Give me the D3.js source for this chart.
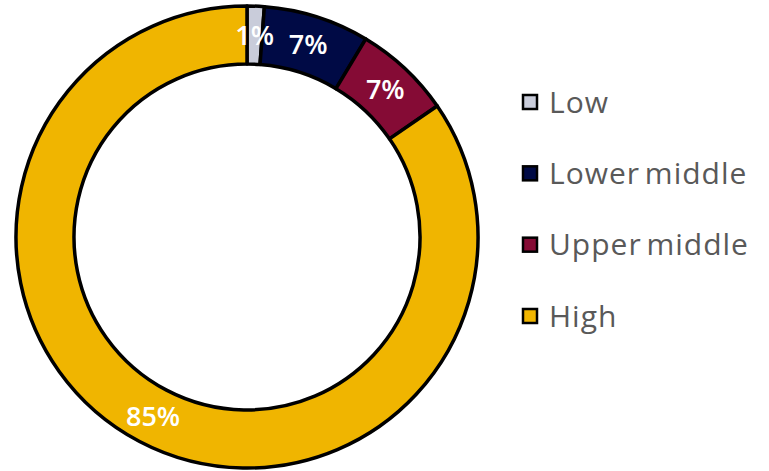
<!DOCTYPE html>
<html><head><meta charset="utf-8">
<script src="https://cdn.jsdelivr.net/npm/d3@7"></script>
<style>body{margin:0;background:#fff;}svg{display:block;}</style>
</head><body>
<svg id="c" width="769" height="471"></svg>
<script>
const categories = ["Low", "Lower middle", "Upper middle", "High"];
const values = [1.2, 7.4, 6.8, 84.6];
const labels = ["1%", "7%", "7%", "85%"];
const colors = ["#c9ccda", "#000a45", "#850b35", "#f0b500"];

const svg = d3.select("#c");
const cx = 247, cy = 237, rOut = 231, rIn = 173;
const g = svg.append("g").attr("transform", `translate(${cx},${cy})`);
const pie = d3.pie().sort(null).value(d => d.v);
const data = pie(categories.map((c, i) => ({c, v: values[i], l: labels[i], col: colors[i]})));
const arc = d3.arc().innerRadius(rIn).outerRadius(rOut);
const labelArc = d3.arc().innerRadius(202).outerRadius(202);

g.selectAll("path").data(data).join("path")
  .attr("d", arc).attr("fill", d => d.data.col)
  .attr("stroke", "#000").attr("stroke-width", 3.5).attr("stroke-linejoin", "round");

g.selectAll("text").data(data).join("text")
  .attr("transform", d => `translate(${labelArc.centroid(d)})`)
  .attr("text-anchor", "middle").attr("dy", "0.36em")
  .attr("fill", "#fff").attr("font-family", "'Open Sans', sans-serif")
  .attr("font-weight", 600).attr("font-size", 27)
  .text(d => d.data.l);

const legY = d3.scalePoint().domain(categories).range([102, 316]);
const leg = svg.append("g").selectAll("g").data(categories).join("g")
  .attr("transform", d => `translate(523,${legY(d)})`);
leg.append("rect").attr("x", 0).attr("y", -7).attr("width", 14).attr("height", 14)
  .attr("fill", (d, i) => colors[i]).attr("stroke", "#000").attr("stroke-width", 2.5);
leg.append("text").attr("x", 26).attr("dy", "0.36em")
  .attr("fill", "#595959").attr("font-family", "'Open Sans', sans-serif")
  .attr("font-size", 30).attr("letter-spacing", 1).attr("word-spacing", -4).text(d => d);
</script>
</body></html>
